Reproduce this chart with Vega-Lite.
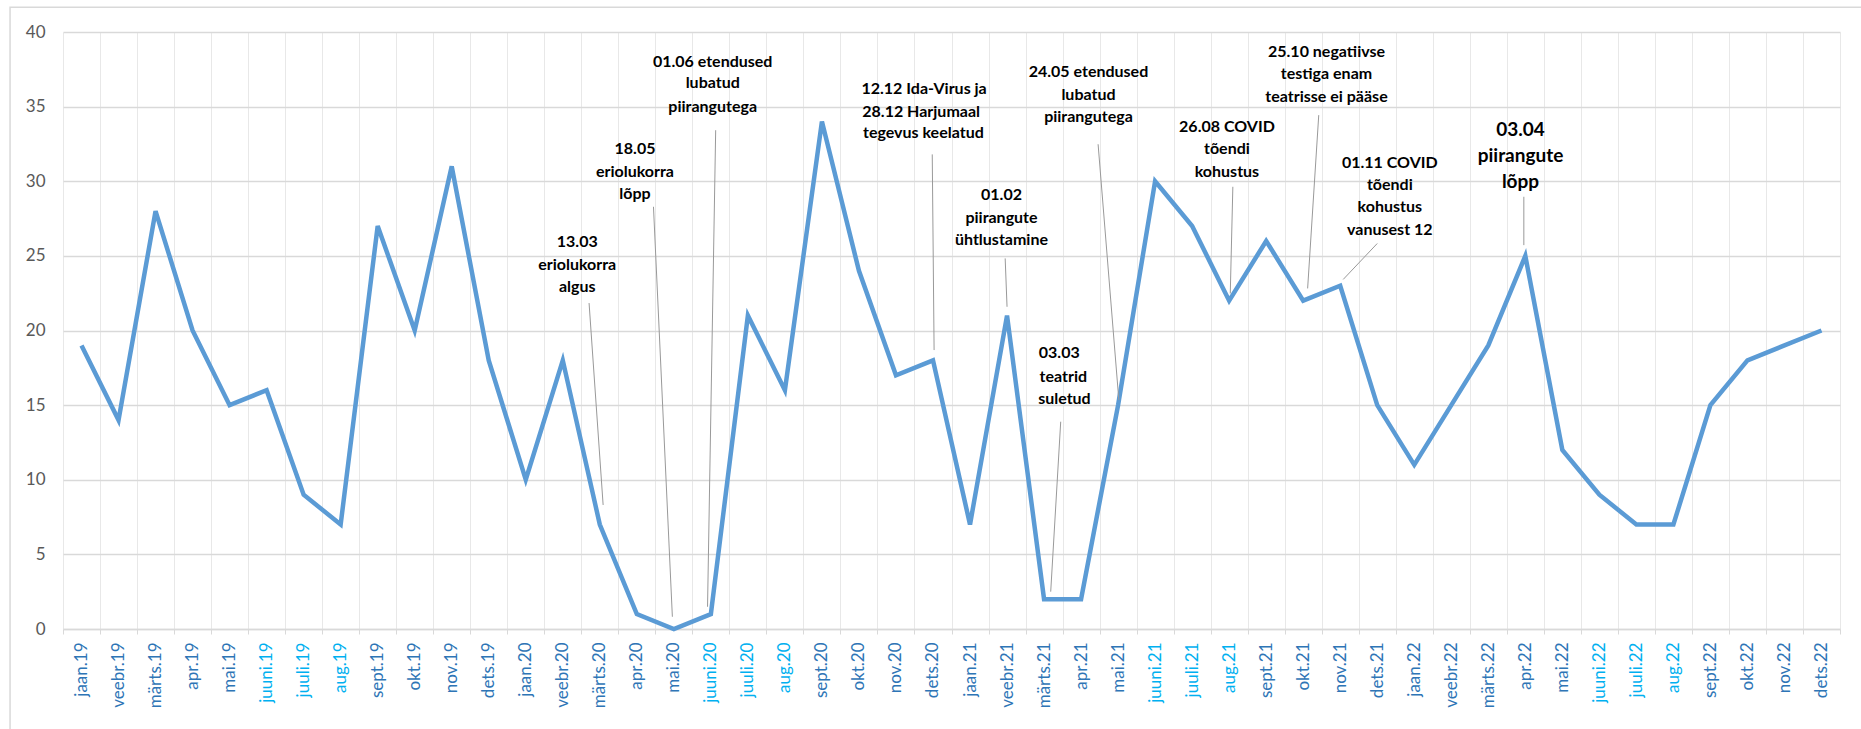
{
  "$schema": "https://vega.github.io/schema/vega-lite/v6.json",
  "width": 1777,
  "height": 597,
  "autosize": {"type": "none"},
  "padding": {"left": 63, "top": 32, "right": 21, "bottom": 100},
  "background": "white",
  "config": {"view": {"stroke": null}, "font": "Lato", "axisX": {"labelOverlap": false, "labelFlush": false, "labelBound": false}},
  "datasets": {
    "series": [
      {"m": "jaan.19", "i": 0, "v": 19}, {"m": "veebr.19", "i": 1, "v": 14}, {"m": "märts.19", "i": 2, "v": 28},
      {"m": "apr.19", "i": 3, "v": 20}, {"m": "mai.19", "i": 4, "v": 15}, {"m": "juuni.19", "i": 5, "v": 16},
      {"m": "juuli.19", "i": 6, "v": 9}, {"m": "aug.19", "i": 7, "v": 7}, {"m": "sept.19", "i": 8, "v": 27},
      {"m": "okt.19", "i": 9, "v": 20}, {"m": "nov.19", "i": 10, "v": 31}, {"m": "dets.19", "i": 11, "v": 18},
      {"m": "jaan.20", "i": 12, "v": 10}, {"m": "veebr.20", "i": 13, "v": 18}, {"m": "märts.20", "i": 14, "v": 7},
      {"m": "apr.20", "i": 15, "v": 1}, {"m": "mai.20", "i": 16, "v": 0}, {"m": "juuni.20", "i": 17, "v": 1},
      {"m": "juuli.20", "i": 18, "v": 21}, {"m": "aug.20", "i": 19, "v": 16}, {"m": "sept.20", "i": 20, "v": 34},
      {"m": "okt.20", "i": 21, "v": 24}, {"m": "nov.20", "i": 22, "v": 17}, {"m": "dets.20", "i": 23, "v": 18},
      {"m": "jaan.21", "i": 24, "v": 7}, {"m": "veebr.21", "i": 25, "v": 21}, {"m": "märts.21", "i": 26, "v": 2},
      {"m": "apr.21", "i": 27, "v": 2}, {"m": "mai.21", "i": 28, "v": 15}, {"m": "juuni.21", "i": 29, "v": 30},
      {"m": "juuli.21", "i": 30, "v": 27}, {"m": "aug.21", "i": 31, "v": 22}, {"m": "sept.21", "i": 32, "v": 26},
      {"m": "okt.21", "i": 33, "v": 22}, {"m": "nov.21", "i": 34, "v": 23}, {"m": "dets.21", "i": 35, "v": 15},
      {"m": "jaan.22", "i": 36, "v": 11}, {"m": "veebr.22", "i": 37, "v": 15}, {"m": "märts.22", "i": 38, "v": 19},
      {"m": "apr.22", "i": 39, "v": 25}, {"m": "mai.22", "i": 40, "v": 12}, {"m": "juuni.22", "i": 41, "v": 9},
      {"m": "juuli.22", "i": 42, "v": 7}, {"m": "aug.22", "i": 43, "v": 7}, {"m": "sept.22", "i": 44, "v": 15},
      {"m": "okt.22", "i": 45, "v": 18}, {"m": "nov.22", "i": 46, "v": 19}, {"m": "dets.22", "i": 47, "v": 20}
    ],
    "notes": [
      {"note": "13.03", "t": "13.03", "x": 13.39, "y": 25.94},
      {"note": "13.03", "t": "eriolukorra", "x": 13.39, "y": 24.38},
      {"note": "13.03", "t": "algus", "x": 13.39, "y": 22.93},
      {"note": "18.05", "t": "18.05", "x": 14.95, "y": 32.15},
      {"note": "18.05", "t": "eriolukorra", "x": 14.95, "y": 30.63},
      {"note": "18.05", "t": "lõpp", "x": 14.95, "y": 29.12},
      {"note": "01.06", "t": "01.06 etendused", "x": 17.05, "y": 38.0},
      {"note": "01.06", "t": "lubatud", "x": 17.05, "y": 36.55},
      {"note": "01.06", "t": "piirangutega", "x": 17.05, "y": 34.98},
      {"note": "12.12", "t": "12.12 Ida-Virus ja", "x": 22.76, "y": 36.15},
      {"note": "12.12", "t": "28.12 Harjumaal", "x": 22.68, "y": 34.65},
      {"note": "12.12", "t": "tegevus keelatud", "x": 22.74, "y": 33.2},
      {"note": "01.02", "t": "01.02", "x": 24.85, "y": 29.07},
      {"note": "01.02", "t": "piirangute", "x": 24.85, "y": 27.51},
      {"note": "01.02", "t": "ühtlustamine", "x": 24.85, "y": 26.05},
      {"note": "03.03", "t": "03.03", "x": 26.41, "y": 18.47},
      {"note": "03.03", "t": "teatrid", "x": 26.52, "y": 16.9},
      {"note": "03.03", "t": "suletud", "x": 26.55, "y": 15.39},
      {"note": "24.05", "t": "24.05 etendused", "x": 27.2, "y": 37.33},
      {"note": "24.05", "t": "lubatud", "x": 27.2, "y": 35.81},
      {"note": "24.05", "t": "piirangutega", "x": 27.2, "y": 34.31},
      {"note": "26.08", "t": "26.08 COVID", "x": 30.94, "y": 33.65},
      {"note": "26.08", "t": "tõendi", "x": 30.94, "y": 32.15},
      {"note": "26.08", "t": "kohustus", "x": 30.94, "y": 30.63},
      {"note": "25.10", "t": "25.10 negatiivse", "x": 33.63, "y": 38.67},
      {"note": "25.10", "t": "testiga enam", "x": 33.63, "y": 37.17},
      {"note": "25.10", "t": "teatrisse ei pääse", "x": 33.63, "y": 35.65},
      {"note": "01.11", "t": "01.11 COVID", "x": 35.34, "y": 31.23},
      {"note": "01.11", "t": "tõendi", "x": 35.34, "y": 29.74},
      {"note": "01.11", "t": "kohustus", "x": 35.34, "y": 28.25},
      {"note": "01.11", "t": "vanusest 12", "x": 35.34, "y": 26.72},
      {"note": "03.04", "t": "03.04", "x": 38.87, "y": 33.42},
      {"note": "03.04", "t": "piirangute", "x": 38.87, "y": 31.68},
      {"note": "03.04", "t": "lõpp", "x": 38.87, "y": 29.96}
    ],
    "leaders": [
      {"note": "13.03", "x1": 13.71, "y1": 21.84, "x2": 14.09, "y2": 8.31},
      {"note": "18.05", "x1": 15.45, "y1": 28.29, "x2": 15.96, "y2": 0.82},
      {"note": "01.06", "x1": 17.13, "y1": 33.42, "x2": 16.91, "y2": 1.49},
      {"note": "12.12", "x1": 22.98, "y1": 31.8, "x2": 23.03, "y2": 18.69},
      {"note": "01.02", "x1": 24.95, "y1": 24.83, "x2": 25.0, "y2": 21.59},
      {"note": "03.03", "x1": 26.45, "y1": 13.89, "x2": 26.18, "y2": 2.5},
      {"note": "24.05", "x1": 27.46, "y1": 32.48, "x2": 28.02, "y2": 15.34},
      {"note": "26.08", "x1": 31.1, "y1": 29.63, "x2": 31.03, "y2": 22.48},
      {"note": "25.10", "x1": 33.42, "y1": 34.43, "x2": 33.12, "y2": 22.82},
      {"note": "01.11", "x1": 35.0, "y1": 25.83, "x2": 34.08, "y2": 23.42},
      {"note": "03.04", "x1": 38.96, "y1": 28.96, "x2": 38.96, "y2": 25.72}
    ]
  },
  "layer": [
    {
      "data": {"name": "series"},
      "mark": {"type": "line", "color": "#5B9BD5", "strokeWidth": 4.5},
      "encoding": {
        "x": {
          "field": "i",
          "type": "quantitative",
          "title": null,
          "scale": {"domain": [-0.5, 47.5], "nice": false, "zero": false},
          "axis": {
            "values": [-0.5, 0.5, 1.5, 2.5, 3.5, 4.5, 5.5, 6.5, 7.5, 8.5, 9.5, 10.5, 11.5, 12.5, 13.5, 14.5, 15.5, 16.5, 17.5, 18.5, 19.5, 20.5, 21.5, 22.5, 23.5, 24.5, 25.5, 26.5, 27.5, 28.5, 29.5, 30.5, 31.5, 32.5, 33.5, 34.5, 35.5, 36.5, 37.5, 38.5, 39.5, 40.5, 41.5, 42.5, 43.5, 44.5, 45.5, 46.5, 47.5],
            "tickCount": 100,
            "title": null,
            "grid": true,
            "gridColor": "#E8E8E8",
            "gridWidth": 1,
            "domainColor": "#D9D9D9",
            "domainWidth": 1.5,
            "ticks": true,
            "tickColor": "#D9D9D9",
            "tickSize": 5,
            "tickWidth": 1,
            "labelAngle": -90,
            "labelAlign": "right",
            "labelBaseline": "middle",
            "labelOffset": 18.5,
            "labelPadding": 8,
            "labelFont": "Lato",
            "labelFontSize": 17,
            "labelFlush": false,
            "labelOverlap": false,
            "labelBound": false,
            "labelSeparation": 0,
            "labelColor": {"condition": {"test": "indexof([5, 6, 7], (datum.value + 0.5) % 12) >= 0", "value": "#00B0F0"}, "value": "#2E75B6"},
            "labelExpr": "(datum.value + 0.5) >= 48 ? '' : ['jaan','veebr','märts','apr','mai','juuni','juuli','aug','sept','okt','nov','dets'][(datum.value + 0.5) % 12] + '.' + (19 + floor((datum.value + 0.5) / 12))"
          }
        },
        "y": {
          "field": "v",
          "type": "quantitative",
          "title": null,
          "scale": {"domain": [0, 40], "nice": false},
          "axis": {
            "values": [0, 5, 10, 15, 20, 25, 30, 35, 40],
            "tickCount": 20,
            "title": null,
            "grid": true,
            "gridColor": "#D9D9D9",
            "gridWidth": 1.5,
            "domain": false,
            "ticks": false,
            "labelColor": "#595959",
            "labelFont": "Lato",
            "labelFontSize": 17,
            "labelPadding": 18
          }
        }
      }
    },
    {
      "data": {"values": [{}]},
      "mark": {"type": "rect", "fill": null, "stroke": "#D9D9D9", "strokeWidth": 1.5, "clip": false},
      "encoding": {
        "x": {"datum": -1.93, "type": "quantitative", "title": null},
        "x2": {"datum": 48.8},
        "y": {"datum": 41.66, "type": "quantitative", "title": null},
        "y2": {"datum": -8}
      }
    },
    {
      "data": {"name": "leaders"},
      "mark": {"type": "rule", "color": "#999999", "strokeWidth": 1},
      "encoding": {
        "x": {"field": "x1", "type": "quantitative", "title": null},
        "y": {"field": "y1", "type": "quantitative", "title": null},
        "x2": {"field": "x2"},
        "y2": {"field": "y2"}
      }
    },
    {
      "data": {"name": "notes"},
      "transform": [{"filter": "datum.note != '03.04'"}],
      "mark": {"type": "text", "font": "Lato", "fontWeight": "bold", "fontSize": 16, "color": "#000000", "align": "center", "baseline": "middle"},
      "encoding": {
        "x": {"field": "x", "type": "quantitative", "title": null},
        "y": {"field": "y", "type": "quantitative", "title": null},
        "text": {"field": "t"}
      }
    },
    {
      "data": {"name": "notes"},
      "transform": [{"filter": "datum.note == '03.04'"}],
      "mark": {"type": "text", "font": "Lato", "fontWeight": "bold", "fontSize": 19, "color": "#000000", "align": "center", "baseline": "middle"},
      "encoding": {
        "x": {"field": "x", "type": "quantitative", "title": null},
        "y": {"field": "y", "type": "quantitative", "title": null},
        "text": {"field": "t"}
      }
    }
  ]
}
